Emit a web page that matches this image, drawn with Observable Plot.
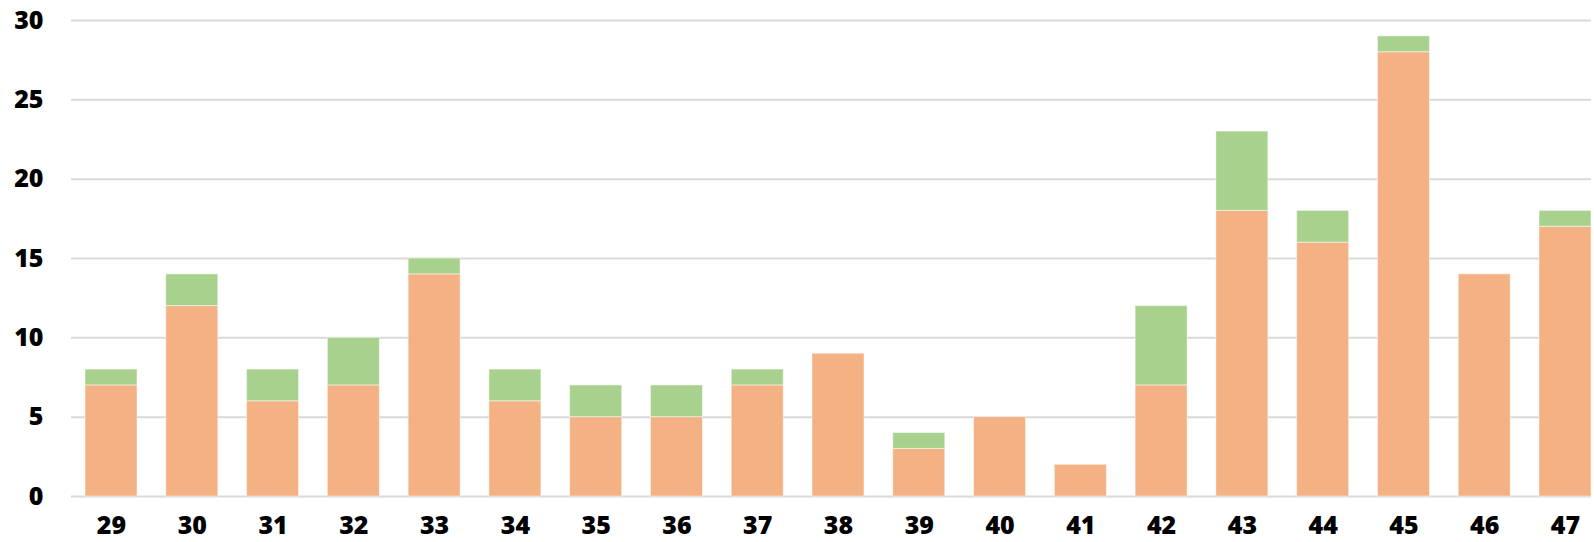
<!DOCTYPE html>
<html>
<head>
<meta charset="utf-8">
<script src="https://cdn.jsdelivr.net/npm/d3@7"></script>
<script src="https://cdn.jsdelivr.net/npm/@observablehq/plot@0.6"></script>
<style>
  html, body { margin: 0; padding: 0; background: #ffffff; }
  #chart svg { display: block; }
</style>
</head>
<body>
<div id="chart"></div>
<script>
const weeks = ["29","30","31","32","33","34","35","36","37","38","39","40","41","42","43","44","45","46","47"];
const seriesOrange = [7,12,6,7,14,6,5,5,7,9,3,5,2,7,18,16,28,14,17];
const seriesGreen  = [1,2,2,3,1,2,2,2,1,0,1,0,0,5,5,2,1,0,1];
const seriesNames = ["serie1", "serie2"];
const seriesColors = ["#F4B183", "#A9D18E"];
const yTicks = [0,5,10,15,20,25,30];

const rows = [];
weeks.forEach((w, i) => {
  rows.push({week: w, series: seriesNames[0], value: seriesOrange[i]});
  rows.push({week: w, series: seriesNames[1], value: seriesGreen[i]});
});

const chart = Plot.plot({
  width: 1594,
  height: 542,
  marginLeft: 85,
  marginRight: 3,
  marginTop: 20,
  marginBottom: 46,
  style: {fontFamily: "'Open Sans', sans-serif", fontSize: "25px", fontWeight: 800, color: "#000", background: "#fff"},
  x: {domain: weeks, paddingInner: 0.356, paddingOuter: 0, round: false, label: null, tickSize: 0, tickPadding: 20},
  y: {domain: [0, 30], ticks: yTicks, label: null, tickSize: 0, tickPadding: 42},
  color: {domain: seriesNames, range: seriesColors},
  marks: [
    Plot.ruleY(yTicks, {stroke: "#d9d9d9", strokeWidth: 2, insetLeft: -14}),
    Plot.barY(rows, Plot.stackY({
      x: "week", y: "value", fill: "series", order: seriesNames,
      stroke: "#ffffff", strokeWidth: 1, strokeOpacity: 0.5
    }))
  ]
});
document.getElementById("chart").appendChild(chart);
</script>
</body>
</html>
